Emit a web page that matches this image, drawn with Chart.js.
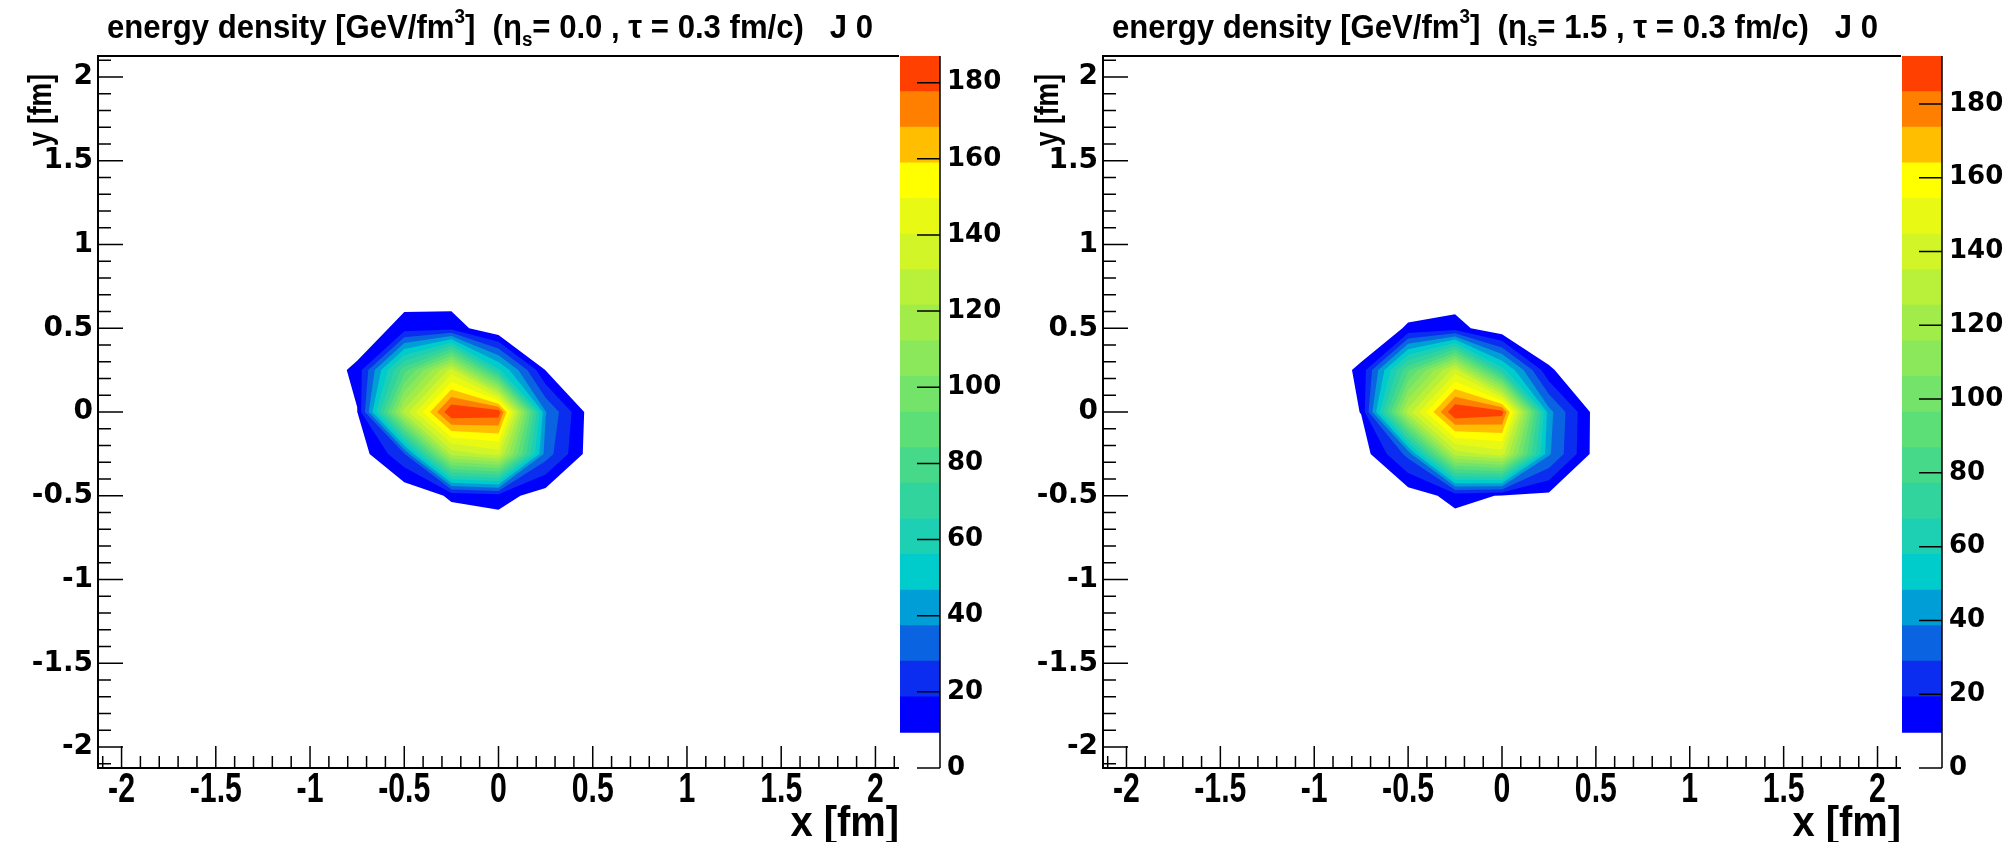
<!DOCTYPE html>
<html>
<head>
<meta charset="utf-8">
<script src="https://cdn.jsdelivr.net/npm/chart.js@4.4.1/dist/chart.umd.min.js"></script>
<style>
  body { margin: 0; background: #fff; width: 2014px; height: 842px; overflow: hidden; position: relative; }
  canvas { position: absolute; top: 0; }
</style>
</head>
<body>
<canvas id="map0" width="900" height="842" style="left:0"></canvas>
<canvas id="bar0" width="107" height="842" style="left:900px"></canvas>
<canvas id="map1" width="895" height="842" style="left:1007px"></canvas>
<canvas id="bar1" width="112" height="842" style="left:1902px"></canvas>
<script>
// grid nodes (fm) of the energy density map, only the non-empty part
var xNodes = [-1, -0.75, -0.5, -0.25, 0, 0.25, 0.5, 0.75]
var yNodes = [0.75, 0.5, 0.25, 0, -0.25, -0.5, -0.75]

// energy density [GeV/fm^3] at the nodes, rows follow yNodes
var densEta00 = [
  [0, 0,   2,   1,   0,  0, 0, 0],
  [0, 0,  14,  15,   0,  0, 0, 0],
  [0, 12, 80, 135,  58,  9, 0, 0],
  [0, 9, 125, 187, 184, 38, 3, 0],
  [0, 3,  27, 125, 135, 33, 3, 0],
  [0, 0,   1,  11,  14,  4, 0, 0],
  [0, 0,   0,   0,   0,  0, 0, 0]
]
var densEta15 = [
  [0, 0,   1,   1,   0,  0, 0, 0],
  [0, 0,  11,  14,   1,  0, 0, 0],
  [0, 12, 85, 140,  62, 11, 0, 0],
  [0, 10, 130, 193, 188, 42, 5, 0],
  [0, 4,  32, 130, 140, 40, 5, 0],
  [0, 0,   4,  13,   9,  7, 0, 0],
  [0, 0,   0,   2,   0,  0, 0, 0]
]
var zMax = [187, 193]
var etaText = ['0.0', '1.5']
var tauText = '0.3'

var axisTicks = [-2, -1.5, -1, -0.5, 0, 0.5, 1, 1.5, 2]
var zTicks = [0, 20, 40, 60, 80, 100, 120, 140, 160, 180]
var nLevels = 20
var bandColors = [
  '#0000ff', '#0a2df0', '#0a64e1', '#009ed6', '#00cccc', '#1dcfb3', '#32d49e',
  '#47d98a', '#5ddf78', '#73e469', '#8ae85a', '#a1ec49', '#b9f03a', '#d2f528',
  '#e8fa14', '#ffff00', '#ffbf00', '#ff8000', '#ff4000'
]
var dens = [densEta00, densEta15]

var arial = '"Liberation Sans", Arial, sans-serif'
var wide = '"DejaVu Sans", sans-serif'

function clipAbove(poly, lev) {
  var out = []
  for (var n = 0; n < poly.length; n++) {
    var a = poly[n], b = poly[(n + 1) % poly.length]
    var ina = a[2] >= lev, inb = b[2] >= lev
    if (ina) out.push(a)
    if (ina !== inb) {
      var t = (lev - a[2]) / (b[2] - a[2])
      out.push([a[0] + t * (b[0] - a[0]), a[1] + t * (b[1] - a[1]), lev])
    }
  }
  return out
}

// condensed bold text: canvas has no narrow font here, so squeeze horizontally
function narrowText(ctx, txt, x, y, font, sx, align) {
  ctx.save()
  ctx.font = font
  var w = ctx.measureText(txt).width * sx
  var left = align === 'right' ? x - w : align === 'center' ? x - w / 2 : x
  ctx.translate(left, y)
  ctx.scale(sx, 1)
  ctx.textAlign = 'left'
  ctx.fillText(txt, 0, 0)
  ctx.restore()
  return w
}

var contourPlugin = {
  id: 'contour',
  beforeDatasetsDraw: function(chart, args, opts) {
    var ctx = chart.ctx, xs = chart.scales.x, ys = chart.scales.y, area = chart.chartArea
    var z = dens[opts.panel], top = zMax[opts.panel]
    ctx.save()
    ctx.beginPath()
    ctx.rect(area.left, area.top, area.right - area.left, area.bottom - area.top)
    ctx.clip()
    for (var k = 1; k < nLevels; k++) {
      var lev = k * top / nLevels
      ctx.fillStyle = bandColors[k - 1]
      ctx.beginPath()
      for (var j = 0; j < yNodes.length - 1; j++) {
        for (var i = 0; i < xNodes.length - 1; i++) {
          var quad = [
            [xNodes[i], yNodes[j], z[j][i]],
            [xNodes[i + 1], yNodes[j], z[j][i + 1]],
            [xNodes[i + 1], yNodes[j + 1], z[j + 1][i + 1]],
            [xNodes[i], yNodes[j + 1], z[j + 1][i]]
          ]
          var poly = clipAbove(quad, lev)
          if (poly.length < 3) continue
          poly.forEach(function(p, n) {
            var px = xs.getPixelForValue(p[0]), py = ys.getPixelForValue(p[1])
            if (n) ctx.lineTo(px, py); else ctx.moveTo(px, py)
          })
          ctx.closePath()
        }
      }
      ctx.fill()
    }
    ctx.restore()
  },
  afterDraw: function(chart, args, opts) {
    var ctx = chart.ctx, xs = chart.scales.x, ys = chart.scales.y, a = chart.chartArea
    ctx.save()
    // frame: left, top and bottom only, the palette sits on the right
    ctx.strokeStyle = '#000'
    ctx.lineWidth = 2
    ctx.beginPath()
    ctx.moveTo(a.right, a.top)
    ctx.lineTo(a.left, a.top)
    ctx.lineTo(a.left, a.bottom)
    ctx.lineTo(a.right, a.bottom)
    ctx.stroke()
    // ticks inside the frame
    ctx.lineWidth = 1.5
    ctx.beginPath()
    for (var t = -21; t <= 21; t++) {
      var v = t / 10, major = t % 5 === 0
      var px = xs.getPixelForValue(v)
      ctx.moveTo(px, a.bottom)
      ctx.lineTo(px, a.bottom - (major ? 22 : 12))
      var py = ys.getPixelForValue(v)
      ctx.moveTo(a.left, py)
      ctx.lineTo(a.left + (major ? 25 : 13), py)
    }
    ctx.stroke()
    ctx.fillStyle = '#000'
    ctx.textBaseline = 'alphabetic'

    // x tick labels (narrow bold)
    xs.ticks.forEach(function(tk) {
      narrowText(ctx, String(tk.value), xs.getPixelForValue(tk.value), 802,
                 'bold 42px ' + arial, 0.72, 'center')
    })

    // title with super/subscripts
    var pieces = [
      ['energy density [GeV/fm', 33, 0],
      ['3', 20, -15],
      [']  (', 33, 0],
      ['\u03b7', 33, 0],
      ['s', 20, 8],
      ['= ' + etaText[opts.panel] + ' , \u03c4 = ' + tauText + ' fm/c)   J 0', 33, 0]
    ]
    var natural = 0
    pieces.forEach(function(p) {
      ctx.font = 'bold ' + p[1] + 'px ' + arial
      natural += ctx.measureText(p[0]).width
    })
    var sx = 766 / natural, x = a.left + 9
    pieces.forEach(function(p) {
      x += narrowText(ctx, p[0], x, 38 + p[2], 'bold ' + p[1] + 'px ' + arial, sx, 'left')
    })

    // axis titles
    narrowText(ctx, 'x [fm]', a.right, 836, 'bold 42px ' + arial, 0.95, 'right')
    ctx.save()
    ctx.translate(51, 74)
    ctx.rotate(-Math.PI / 2)
    narrowText(ctx, 'y [fm]', 0, 0, 'bold 34px ' + arial, 0.78, 'right')
    ctx.restore()
    ctx.restore()
  }
}

var colorbarPlugin = {
  id: 'colorbar',
  afterDraw: function(chart) {
    var ctx = chart.ctx, ys = chart.scales.y, a = chart.chartArea
    ctx.save()
    ctx.strokeStyle = '#000'
    ctx.lineWidth = 1.5
    ctx.beginPath()
    ctx.moveTo(a.right, a.top)
    ctx.lineTo(a.right, a.bottom)
    ys.ticks.forEach(function(t) {
      var py = ys.getPixelForValue(t.value)
      ctx.moveTo(a.right, py)
      ctx.lineTo(a.right - 23, py)
    })
    ctx.stroke()
    ctx.restore()
  }
}

function makeMap(id, panel, yWidth) {
  var ctx = document.getElementById(id).getContext('2d')
  return new Chart(ctx, {
    type: 'scatter',
    data: { datasets: [{ data: [], pointRadius: 0 }] },
    options: {
      responsive: false,
      animation: false,
      layout: { padding: { top: 56, right: 1, left: 0, bottom: 0 } },
      plugins: {
        legend: { display: false },
        tooltip: { enabled: false },
        contour: { panel: panel }
      },
      scales: {
        x: {
          type: 'linear', min: -2.125, max: 2.125,
          grid: { display: false, drawTicks: false }, border: { display: false },
          afterBuildTicks: function(s) { s.ticks = axisTicks.map(function(v) { return { value: v } }) },
          afterFit: function(s) { s.height = 74 },
          ticks: { display: false }
        },
        y: {
          type: 'linear', min: -2.125, max: 2.125,
          grid: { display: false, drawTicks: false }, border: { display: false },
          afterBuildTicks: function(s) { s.ticks = axisTicks.map(function(v) { return { value: v } }) },
          afterFit: function(s) { s.width = yWidth },
          ticks: { color: '#000', padding: 5, autoSkip: false,
                   callback: function(v) { return String(v) },
                   font: { family: wide, size: 28, weight: 'bold' } }
        }
      }
    },
    plugins: [contourPlugin]
  })
}

function makeBar(id, panel, width) {
  var ctx = document.getElementById(id).getContext('2d')
  var top = zMax[panel]
  var sets = bandColors.map(function(c, k) {
    return {
      data: [[(k + 1) * top / nLevels, (k + 2) * top / nLevels]],
      backgroundColor: c, borderWidth: 0,
      barPercentage: 1, categoryPercentage: 1, grouped: false
    }
  })
  return new Chart(ctx, {
    type: 'bar',
    data: { labels: [''], datasets: sets },
    options: {
      responsive: false,
      animation: false,
      layout: { padding: { top: 56, bottom: 74, left: 0, right: 0 } },
      plugins: { legend: { display: false }, tooltip: { enabled: false } },
      scales: {
        x: { display: false },
        y: {
          position: 'right', min: 0, max: top,
          grid: { display: false, drawTicks: false }, border: { display: false },
          afterBuildTicks: function(s) { s.ticks = zTicks.map(function(v) { return { value: v } }) },
          afterFit: function(s) { s.width = width - 40 },
          ticks: { color: '#000', padding: 7, autoSkip: false,
                   callback: function(v) { return String(v) },
                   font: { family: wide, size: 26, weight: 'bold' } }
        }
      }
    },
    plugins: [colorbarPlugin]
  })
}

makeMap('map0', 0, 98)
makeBar('bar0', 0, 107)
makeMap('map1', 1, 96)
makeBar('bar1', 1, 112)
</script>
</body>
</html>
